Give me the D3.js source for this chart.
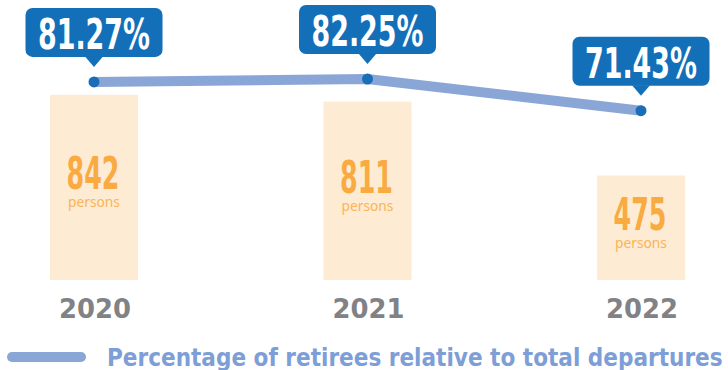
<!DOCTYPE html>
<html>
<head>
<meta charset="utf-8">
<script src="https://cdn.jsdelivr.net/npm/d3@7"></script>
<style>
  html, body { margin: 0; padding: 0; background: #ffffff; }
  svg { display: block; }
</style>
</head>
<body>
<div id="chart"></div>
<script>
// ---- data ----
const years = ["2020", "2021", "2022"];
const persons = [842, 811, 475];
const percentages = [81.27, 82.25, 71.43];
const personUnit = "persons";
const legendLabel = "Percentage of retirees relative to total departures";

// ---- layout ----
const W = 728, H = 370;
const svg = d3.select("#chart").append("svg").attr("width", W).attr("height", H);

const x = d3.scalePoint().domain(years).range([94, 641]);
const yBar = d3.scaleLinear().domain([0, 1000]).range([280, 60]);
const yPct = d3.scaleLinear().domain([0, 100]).range([320, 27]);

const barW = 88;
const condensed = "'Liberation Sans Narrow','DejaVu Sans Condensed','Roboto Condensed',Roboto,sans-serif";

const rows = years.map((yr, i) => ({ yr, n: persons[i], p: percentages[i] }));

// squeeze a text horizontally (real glyph scaling) so that it spans `width` px
// anchored at (ax, ay) with the given anchor (0 = start, 0.5 = middle)
function fit(sel, width, ax, ay, anchor) {
  sel.each(function (d) {
    const t = d3.select(this).attr("x", 0).attr("y", 0).attr("text-anchor", "start");
    const w = this.getComputedTextLength();
    const k = width / w;
    const X = typeof ax === "function" ? ax(d) : ax;
    const Y = typeof ay === "function" ? ay(d) : ay;
    t.attr("transform", `translate(${X - anchor * width},${Y}) scale(${k},1)`);
  });
}

// bars
svg.append("g").selectAll("rect").data(rows).join("rect")
  .attr("x", d => x(d.yr) - barW / 2)
  .attr("y", d => yBar(d.n))
  .attr("width", barW)
  .attr("height", d => yBar(0) - yBar(d.n))
  .attr("fill", "#fdebd4");

// bar value labels
const bl = svg.append("g").selectAll("g").data(rows).join("g")
  .attr("transform", d => `translate(${x(d.yr)},${(yBar(d.n) + yBar(0)) / 2})`);
bl.append("text")
  .attr("font-family", condensed)
  .attr("font-weight", "bold")
  .attr("font-size", 45)
  .attr("fill", "#f9ab42")
  .text(d => d.n)
  .call(fit, 53, -1, 2, 0.5);
bl.append("text")
  .attr("font-family", "'Noto Sans',Lato,sans-serif")
  .attr("font-size", 15)
  .attr("fill", "#fbb457")
  .text(personUnit)
  .call(fit, 52, 0, 20, 0.5);

// year labels
svg.append("g").selectAll("text").data(rows).join("text")
  .attr("font-family", "'DejaVu Sans',sans-serif")
  .attr("font-weight", "bold")
  .attr("font-size", 27)
  .attr("fill", "#808285")
  .text(d => d.yr)
  .call(fit, 72, d => x(d.yr) + 1, 318, 0.5);

// line
const line = d3.line().x(d => x(d.yr)).y(d => yPct(d.p));
svg.append("path")
  .datum(rows)
  .attr("d", line)
  .attr("fill", "none")
  .attr("stroke", "#8aa6d6")
  .attr("stroke-width", 10);

svg.append("g").selectAll("circle").data(rows).join("circle")
  .attr("cx", d => x(d.yr))
  .attr("cy", d => yPct(d.p))
  .attr("r", 5.5)
  .attr("fill", "#1a6eb7");

// callouts
const boxW = 137, boxH = 49, gapBottom = 25, tipGap = 15, tipHalf = 9;
const co = svg.append("g").selectAll("g").data(rows).join("g")
  .attr("transform", d => `translate(${x(d.yr)},${yPct(d.p)})`);
co.append("rect")
  .attr("x", -boxW / 2)
  .attr("y", -gapBottom - boxH)
  .attr("width", boxW)
  .attr("height", boxH)
  .attr("rx", 7)
  .attr("fill", "#136fb8");
co.append("path")
  .attr("d", `M${-tipHalf},${-gapBottom - 0.5} L${tipHalf},${-gapBottom - 0.5} L0,${-tipGap} Z`)
  .attr("fill", "#136fb8");
co.append("text")
  .attr("font-family", condensed)
  .attr("font-weight", "bold")
  .attr("font-size", 43)
  .attr("fill", "#ffffff")
  .text(d => d3.format(".2f")(d.p) + "%")
  .call(fit, 112, 0, -gapBottom - boxH + 41, 0.5);

// legend
const lg = svg.append("g");
lg.append("line")
  .attr("x1", 12).attr("x2", 81)
  .attr("y1", 357).attr("y2", 357)
  .attr("stroke", "#8aa6d6")
  .attr("stroke-width", 10)
  .attr("stroke-linecap", "round");
lg.append("text")
  .attr("font-family", "'DejaVu Sans',sans-serif")
  .attr("font-weight", "bold")
  .attr("font-size", 25)
  .attr("fill", "#7d9ed6")
  .text(legendLabel)
  .call(fit, 616, 107, 366, 0);
</script>
</body>
</html>
